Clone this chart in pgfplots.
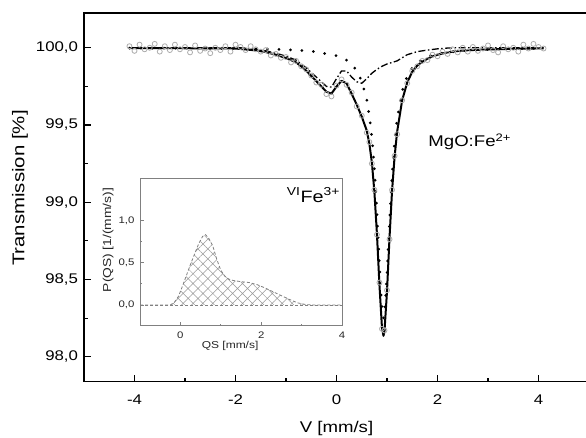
\documentclass[border=0pt]{standalone}
\usepackage{fontspec}
\setmainfont{Liberation Sans}[FakeStretch=1.2]
\usepackage{pgfplots}
\pgfplotsset{compat=1.18}
\usetikzlibrary{patterns.meta}

\begin{document}
\begin{tikzpicture}
\begin{axis}[
  scale only axis, width=505pt, height=368.7pt,
  xmin=-5, xmax=5, ymin=97.838, ymax=100.225,
  xtick={-4,-2,0,2,4}, minor x tick num=1,
  ytick={98,98.5,99,99.5,100}, minor y tick num=1,
  xtick pos=bottom, ytick pos=left,
  axis line style={line width=1.1pt},
  major tick length=7pt, minor tick length=3.5pt,
  tick style={black, line width=1.1pt},
  /pgf/number format/assume math mode=true,
  tick label style={font=\fontsize{14}{16}\selectfont},
  xticklabel style={anchor=center, yshift=-18pt},
  yticklabel style={/pgf/number format/fixed, /pgf/number format/fixed zerofill,
    /pgf/number format/precision=1, /pgf/number format/use comma, xshift=-2.5pt},
  xlabel={V [mm/s]}, ylabel={Transmission [\%]},
  xlabel style={font=\fontsize{15.5}{18}\selectfont, at={(axis description cs:0.5,-0.1256)}, anchor=center},
  ylabel style={font=\fontsize{17}{20}\selectfont, at={(axis description cs:-0.127,0.525)}, anchor=center},
]
% measured spectrum
\addplot[only marks, mark=o, color=gray!65, mark size=2.5pt, mark options={line width=0.8pt}] coordinates {
(-4.1,100.01) (-4.0,99.98) (-3.9,100.02) (-3.8,99.99) (-3.7,100.00) (-3.6,100.025)
(-3.5,99.975) (-3.4,100.01) (-3.3,99.985) (-3.2,100.02) (-3.1,99.99) (-3.0,100.005)
(-2.9,99.97) (-2.8,100.015) (-2.7,99.98) (-2.6,99.995) (-2.5,99.965) (-2.4,100.0)
(-2.3,99.985) (-2.2,100.01) (-2.1,99.975) (-2.0,100.02) (-1.9,100.005) (-1.8,99.985)
(-1.7,100.01) (-1.6,99.99) (-1.5,99.975) (-1.4,99.985) (-1.3,99.95) (-1.2,99.96)
(-1.1,99.935) (-1.0,99.94) (-0.9,99.905) (-0.8,99.915) (-0.7,99.88) (-0.6,99.86)
(-0.5,99.82) (-0.4,99.775) (-0.3,99.76) (-0.2,99.70) (-0.1,99.685) (0.0,99.755)
(0.1,99.795) (0.2,99.76) (0.3,99.71) (0.4,99.62) (0.5,99.56) (0.6,99.45)
(0.65,99.39) (0.7,99.25) (0.75,99.08) (0.8,98.79) (0.85,98.48) (0.9,98.18)
(0.95,98.17) (1.0,98.43) (1.05,98.76) (1.1,99.08) (1.15,99.30) (1.2,99.44)
(1.3,99.66) (1.4,99.77) (1.5,99.85) (1.6,99.88) (1.7,99.915) (1.8,99.92)
(1.9,99.955) (2.0,99.945) (2.1,99.975) (2.2,99.96) (2.3,99.99) (2.4,99.97)
(2.5,100.0) (2.6,99.975) (2.7,100.005) (2.8,99.98) (2.9,99.995) (3.0,100.015)
(3.1,99.985) (3.2,99.97) (3.3,100.01) (3.4,99.99) (3.5,100.0) (3.6,99.975)
(3.7,100.02) (3.8,99.995) (3.9,100.025) (4.0,100.005) (4.1,99.995)
};
% Fe2+ singlet
\addplot[black, line width=3pt, line cap=round, dash pattern=on 0pt off 11.5pt] coordinates {
(-4.1,99.998) (-3,99.997) (-2,99.995) (-1.5,99.992) (-1,99.988) (-0.5,99.978)
(0,99.949) (0.2,99.919) (0.3,99.892) (0.4,99.852) (0.5,99.784) (0.6,99.663)
(0.65,99.564) (0.7,99.423) (0.75,99.221) (0.8,98.939) (0.85,98.596) (0.9,98.309)
(0.93,98.25) (0.95,98.277) (1.0,98.528) (1.05,98.874) (1.1,99.171) (1.15,99.388)
(1.2,99.540) (1.3,99.721) (1.4,99.816) (1.5,99.870) (1.6,99.904) (1.8,99.942)
(2.0,99.961) (2.5,99.982) (3.0,99.989) (3.5,99.993) (4.1,99.998)
};
% Fe3+ doublet
\addplot[black, line width=1.3pt, dash pattern=on 7pt off 2.5pt on 1.5pt off 2.5pt] coordinates {
(-4.1,100) (-1.9,100) (-1.8,99.995) (-1.6,99.99) (-1.4,99.98) (-1.2,99.965)
(-1.0,99.945) (-0.8,99.92) (-0.6,99.87) (-0.5,99.84) (-0.4,99.81) (-0.3,99.78)
(-0.2,99.75) (-0.1,99.745) (0.0,99.80) (0.1,99.85) (0.2,99.85) (0.3,99.81)
(0.4,99.78) (0.5,99.77) (0.6,99.80) (0.7,99.835) (0.8,99.86) (0.9,99.88)
(1.0,99.895) (1.2,99.915) (1.4,99.955) (1.6,99.975) (1.8,99.985) (2.0,99.993)
(2.2,99.998) (2.4,100) (4.1,100)
};
% total fit
\addplot[black, line width=2pt, line join=round] coordinates {
(-4.1,99.998) (-3.5,99.997) (-3.0,99.997) (-2.5,99.996) (-2.0,99.995) (-1.8,99.989)
(-1.6,99.983) (-1.4,99.972) (-1.2,99.955) (-1.0,99.933) (-0.9,99.920) (-0.8,99.905)
(-0.7,99.880) (-0.6,99.851) (-0.5,99.818) (-0.4,99.784) (-0.3,99.750) (-0.2,99.715)
(-0.1,99.703) (0.0,99.749) (0.1,99.786) (0.2,99.769) (0.3,99.702) (0.4,99.632)
(0.5,99.554) (0.6,99.463) (0.65,99.381) (0.7,99.258) (0.75,99.069) (0.8,98.799)
(0.85,98.466) (0.9,98.189) (0.93,98.135) (0.95,98.165) (1.0,98.423) (1.05,98.773)
(1.1,99.074) (1.15,99.294) (1.2,99.455) (1.3,99.660) (1.4,99.775) (1.5,99.845)
(1.6,99.885) (1.7,99.910) (1.8,99.929) (1.9,99.944) (2.0,99.955) (2.2,99.970)
(2.4,99.979) (2.6,99.984) (3.0,99.989) (3.5,99.993) (4.1,99.996)
};
\node[anchor=west, font=\fontsize{15.5}{18}\selectfont] at (axis cs:1.75,99.39) {MgO:Fe\textsuperscript{2+}};
\end{axis}

% inset: QS distribution
\begin{axis}[
  at={(56pt,56pt)}, anchor=south west,
  scale only axis, width=202pt, height=147.7pt,
  xmin=-1, xmax=4, ymin=-0.245, ymax=1.5,
  axis background/.style={fill=white},
  axis line style={gray, line width=0.8pt},
  xtick={0,2,4}, minor x tick num=1,
  ytick={0,0.5,1}, minor y tick num=1,
  xtick pos=bottom, ytick pos=left,
  major tick length=4pt, minor tick length=2pt,
  tick style={gray, line width=0.8pt},
  /pgf/number format/assume math mode=true,
  tick label style={font=\fontsize{9.5}{11}\selectfont, text=black!85},
  xticklabel style={anchor=center, yshift=-9.5pt},
  yticklabel style={/pgf/number format/fixed, /pgf/number format/fixed zerofill,
    /pgf/number format/precision=1, /pgf/number format/use comma, xshift=-2pt},
  xlabel={QS [mm/s]}, ylabel={P(QS) [1/(mm/s)]},
  xlabel style={font=\fontsize{10}{12}\selectfont, text=black!85, at={(axis description cs:0.446,-0.137)}, anchor=center},
  ylabel style={font=\fontsize{11.5}{13}\selectfont, text=black!85, at={(axis description cs:-0.158,0.58)}, anchor=center},
]
\addplot[draw=none, pattern={Hatch[angle=45, distance=7pt, line width=0.5pt]}, pattern color=gray!80] coordinates {
(-0.25,0) (-0.15,0.03) (-0.05,0.10) (0.05,0.22) (0.15,0.35) (0.25,0.48) (0.35,0.60)
(0.45,0.72) (0.55,0.81) (0.62,0.83) (0.7,0.79) (0.8,0.70) (0.9,0.54) (1.0,0.41)
(1.1,0.34) (1.2,0.305) (1.3,0.29) (1.5,0.275) (1.7,0.265) (1.9,0.24) (2.1,0.20)
(2.3,0.155) (2.5,0.11) (2.7,0.065) (2.9,0.025) (3.1,0.005) (3.3,0)
} \closedcycle;
\addplot[gray, line width=0.8pt, dash pattern=on 3pt off 2pt] coordinates {
(-1,0) (-0.25,0) (-0.15,0.03) (-0.05,0.10) (0.05,0.22) (0.15,0.35) (0.25,0.48) (0.35,0.60)
(0.45,0.72) (0.55,0.81) (0.62,0.83) (0.7,0.79) (0.8,0.70) (0.9,0.54) (1.0,0.41)
(1.1,0.34) (1.2,0.305) (1.3,0.29) (1.5,0.275) (1.7,0.265) (1.9,0.24) (2.1,0.20)
(2.3,0.155) (2.5,0.11) (2.7,0.065) (2.9,0.025) (3.1,0.005) (3.3,0) (4,0)
};
\addplot[gray, line width=0.8pt, dash pattern=on 3pt off 2pt] coordinates {(-1,0) (4,0)};
\node[anchor=west, font=\fontsize{16.5}{19}\selectfont] at (axis cs:2.55,1.3) {\textsuperscript{VI}Fe\textsuperscript{3+}};
\end{axis}
\pgfresetboundingbox
\useasboundingbox (-84pt,-55.3pt) rectangle (502pt,381.7pt);
\end{tikzpicture}
\end{document}
